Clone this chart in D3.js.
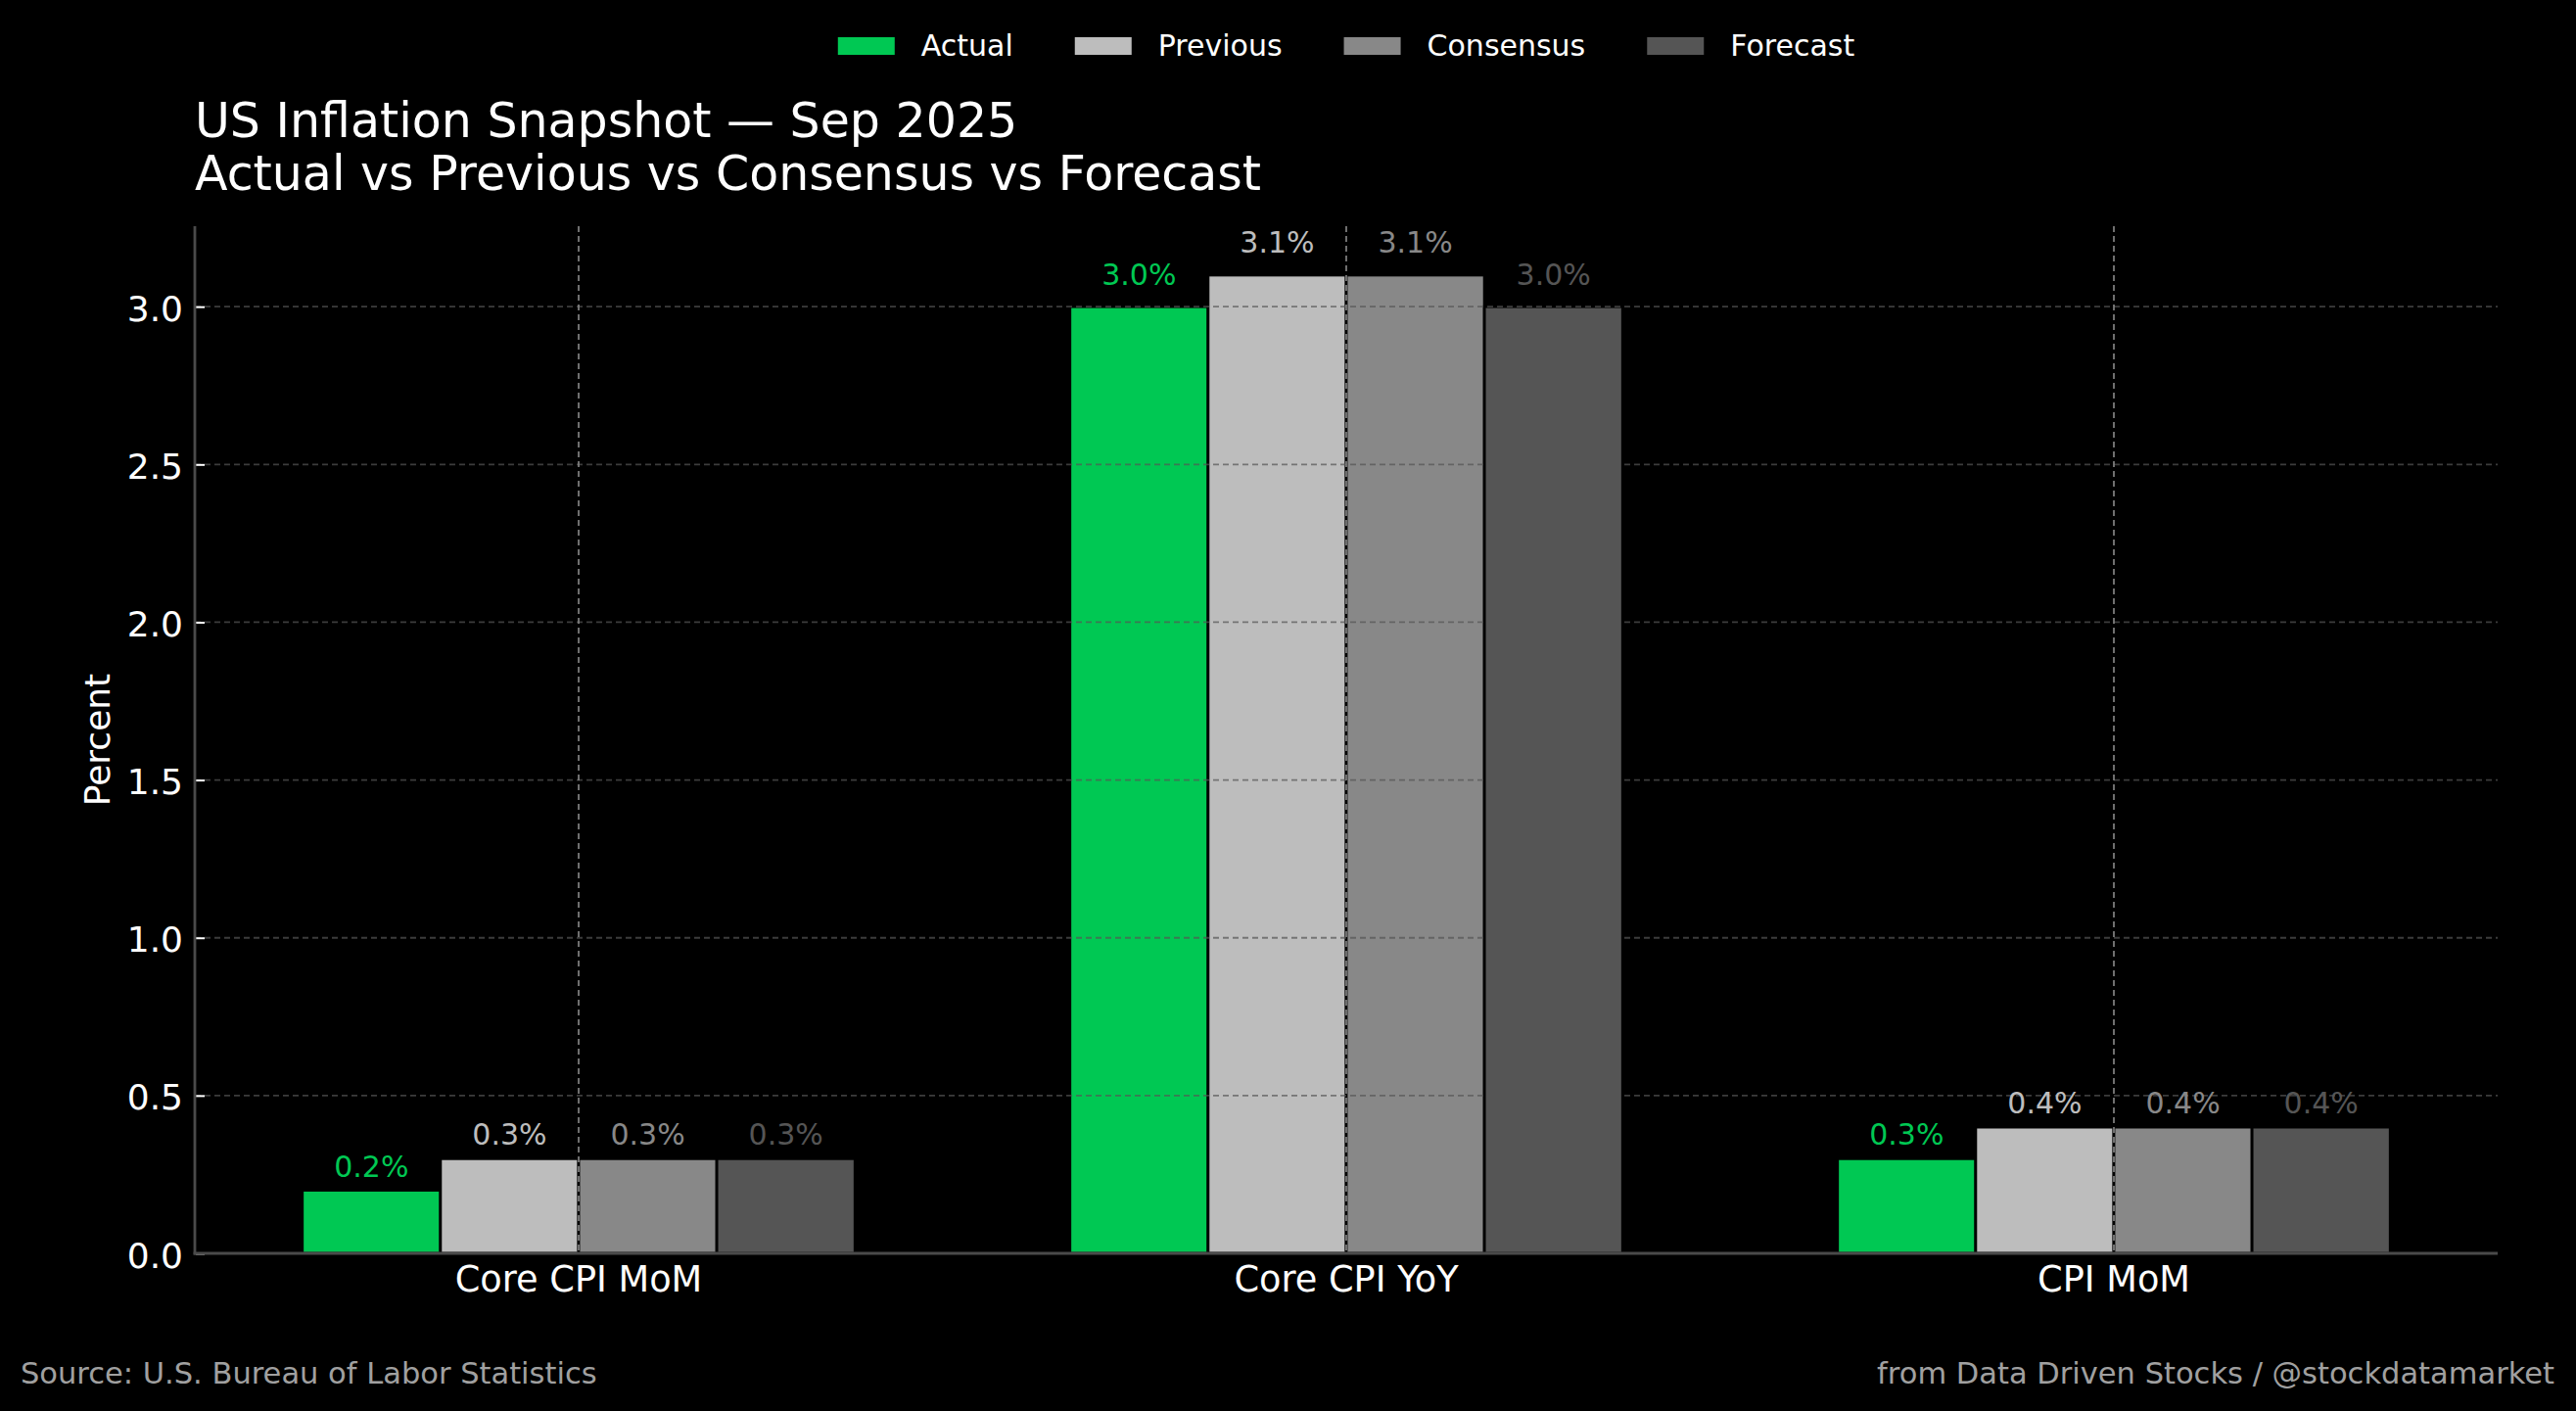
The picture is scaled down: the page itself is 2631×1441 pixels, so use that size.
<!DOCTYPE html>
<html>
<head>
<meta charset="utf-8">
<script src="https://cdn.jsdelivr.net/npm/d3@7"></script>
<style>
  html, body { margin: 0; padding: 0; background: #000; }
  svg { display: block; }
  text { font-family: "DejaVu Sans", sans-serif; }
</style>
</head>
<body>
<svg id="chart" width="2631" height="1441"></svg>
<script>
// ---- data ----
const categories = ["Core CPI MoM", "Core CPI YoY", "CPI MoM"];
const seriesNames = ["Actual", "Previous", "Consensus", "Forecast"];
const actual    = [0.2, 3.0, 0.3];
const previous  = [0.3, 3.1, 0.4];
const consensus = [0.3, 3.1, 0.4];
const forecast  = [0.3, 3.0, 0.4];
const yTicks = [0.0, 0.5, 1.0, 1.5, 2.0, 2.5, 3.0];
const seriesColors = ["#00c853", "#bdbdbd", "#888888", "#555555"];
const titleLines = ["US Inflation Snapshot \u2014 Sep 2025", "Actual vs Previous vs Consensus vs Forecast"];
const yLabel = "Percent";
const sourceText = "Source: U.S. Bureau of Labor Statistics";
const creditText = "from Data Driven Stocks / @stockdatamarket";

const seriesValues = [actual, previous, consensus, forecast];

// ---- layout ----
const W = 2631, H = 1441;
const plot = { left: 199, right: 2551, top: 231, bottom: 1280 };

const svg = d3.select("#chart");
svg.append("rect").attr("width", W).attr("height", H).attr("fill", "#000");

const x = d3.scaleBand().domain(categories).range([plot.left, plot.right]).padding(0);
const groupW = x.bandwidth() * 0.72;
const xs = d3.scaleBand().domain(seriesNames).range([-groupW / 2, groupW / 2]).padding(0);
const yMax = d3.max(seriesValues.flat()) * 1.05;
const y = d3.scaleLinear().domain([0, yMax]).range([plot.bottom, plot.top]);

const cx = c => x(c) + x.bandwidth() / 2;

// ---- bars ----
const barData = [];
seriesNames.forEach((s, si) => {
  categories.forEach((c, ci) => {
    barData.push({ s, si, c, v: seriesValues[si][ci] });
  });
});

svg.append("g").selectAll("rect").data(barData).join("rect")
  .attr("x", d => cx(d.c) + xs(d.s))
  .attr("width", xs.bandwidth())
  .attr("y", d => y(d.v))
  .attr("height", d => y(0) - y(d.v))
  .attr("fill", d => seriesColors[d.si])
  .attr("stroke", "#000")
  .attr("stroke-width", 2.8);

// ---- grid (drawn over bars) ----
const grid = svg.append("g");
grid.selectAll("line.h").data(yTicks.filter(t => t > 0)).join("line")
  .attr("class", "h")
  .attr("x1", plot.left).attr("x2", plot.right)
  .attr("y1", d => y(d)).attr("y2", d => y(d))
  .attr("stroke", "#555").attr("stroke-opacity", 0.7)
  .attr("stroke-width", 1.8).attr("stroke-dasharray", "6,4");
grid.selectAll("line.v").data(categories).join("line")
  .attr("class", "v")
  .attr("x1", d => cx(d)).attr("x2", d => cx(d))
  .attr("y1", plot.top).attr("y2", plot.bottom)
  .attr("stroke", "#888").attr("stroke-opacity", 0.9)
  .attr("stroke-width", 1.8).attr("stroke-dasharray", "6,4");

// ---- value labels ----
svg.append("g").selectAll("text").data(barData).join("text")
  .attr("x", d => cx(d.c) + xs(d.s) + xs.bandwidth() / 2)
  .attr("y", d => y(d.v) - 13 - (y(0) - y(d.v)) * 0.01)
  .attr("text-anchor", "middle")
  .attr("font-size", 30)
  .attr("fill", d => seriesColors[d.si])
  .text(d => d.v.toFixed(1) + "%");

// ---- y axis ----
const yAxis = d3.axisLeft(y).tickValues(yTicks).tickFormat(d3.format(".1f")).tickSize(0);
const yg = svg.append("g").attr("transform", `translate(${plot.left},0)`).call(yAxis);
yg.select(".domain").remove();
yg.selectAll(".tick text")
  .attr("x", -12).attr("dy", null).attr("y", 14)
  .attr("font-size", 36).attr("fill", "#fff")
  .attr("font-family", "DejaVu Sans");
yg.selectAll(".tick").append("line")
  .attr("x1", 1).attr("x2", 10).attr("y1", 0).attr("y2", 0)
  .attr("stroke", "#fff").attr("stroke-width", 2);

// ---- x axis ----
const xAxis = d3.axisBottom(x).tickSize(0);
const xg = svg.append("g").attr("transform", `translate(0,${plot.bottom})`).call(xAxis);
xg.select(".domain").remove();
xg.selectAll(".tick text")
  .attr("dy", null).attr("y", 39)
  .attr("font-size", 36.7).attr("fill", "#fff")
  .attr("font-family", "DejaVu Sans");

// ---- spines ----
svg.append("line").attr("x1", plot.left).attr("x2", plot.left)
  .attr("y1", plot.top).attr("y2", plot.bottom + 1.5)
  .attr("stroke", "#4a4a4a").attr("stroke-width", 2.8);
svg.append("line").attr("x1", plot.left - 1.4).attr("x2", plot.right)
  .attr("y1", plot.bottom).attr("y2", plot.bottom)
  .attr("stroke", "#4a4a4a").attr("stroke-width", 2.8);

// ---- y label ----
svg.append("text")
  .attr("transform", `translate(112,${(plot.top + plot.bottom) / 2}) rotate(-90)`)
  .attr("text-anchor", "middle")
  .attr("font-size", 36).attr("fill", "#fff")
  .text(yLabel);

// ---- title ----
svg.append("g").selectAll("text").data(titleLines).join("text")
  .attr("x", plot.left)
  .attr("y", (d, i) => 140 + i * 54)
  .attr("font-size", 49).attr("fill", "#fff")
  .text(d => d);

// ---- legend ----
const legend = svg.append("g");
const patchW = 58, patchH = 18, textGap = 27, colGap = 63;
const items = legend.selectAll("g").data(seriesNames).join("g");
items.append("rect")
  .attr("width", patchW).attr("height", patchH)
  .attr("y", 38)
  .attr("fill", (d, i) => seriesColors[i]);
items.append("text")
  .attr("x", patchW + textGap).attr("y", 57)
  .attr("font-size", 30).attr("fill", "#fff")
  .text(d => d);
let offs = 0;
const offsets = [];
items.each(function () {
  const tw = d3.select(this).select("text").node().getComputedTextLength();
  offsets.push(offs);
  offs += patchW + textGap + tw + colGap;
});
const legendW = offs - colGap;
const legendX0 = (plot.left + plot.right) / 2 - legendW / 2;
items.attr("transform", (d, i) => `translate(${legendX0 + offsets[i]},0)`);

// ---- footer ----
svg.append("text").attr("x", 21).attr("y", 1413)
  .attr("font-size", 30.5).attr("fill", "#a0a0a0").text(sourceText);
svg.append("text").attr("x", 2609).attr("y", 1413).attr("text-anchor", "end")
  .attr("font-size", 30.5).attr("fill", "#a0a0a0").text(creditText);
</script>
</body>
</html>
